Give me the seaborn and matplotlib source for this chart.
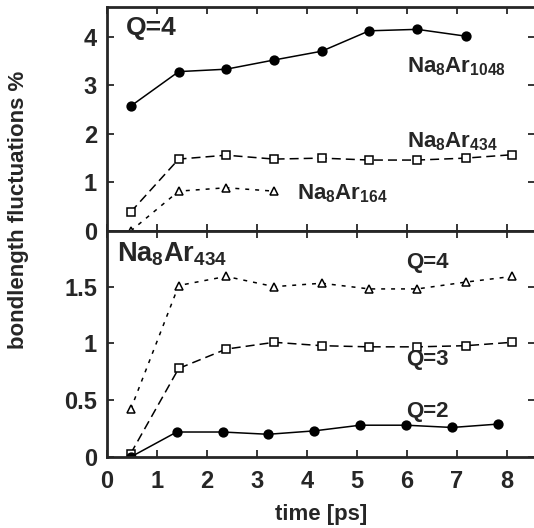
import matplotlib
matplotlib.use("Agg")
import matplotlib.pyplot as plt
import pandas as pd
import seaborn as sns

# top panel, Q=4, three cluster sizes
t_top = [0.48, 1.44, 2.39, 3.35, 4.30, 5.25, 6.21, 7.18, 8.11]
ar1048 = [2.57, 3.28, 3.33, 3.52, 3.70, 4.12, 4.15, 4.01]
ar434 = [0.39, 1.48, 1.56, 1.48, 1.50, 1.46, 1.46, 1.50, 1.57]
ar164 = [0.0, 0.82, 0.89, 0.82]

# bottom panel, Na8Ar434, three charge states
t_q2 = [0.48, 1.40, 2.32, 3.23, 4.15, 5.07, 5.99, 6.91, 7.83]
q4 = [0.42, 1.51, 1.59, 1.50, 1.53, 1.48, 1.48, 1.54, 1.59]
q3 = [0.03, 0.78, 0.95, 1.01, 0.98, 0.97, 0.97, 0.98, 1.01]
q2 = [0.0, 0.22, 0.22, 0.20, 0.23, 0.28, 0.28, 0.26, 0.29]

sns.set_style("ticks")
plt.rcParams["font.family"] = ["Liberation Sans", "DejaVu Sans"]
plt.rcParams["font.weight"] = "bold"
plt.rcParams["mathtext.fontset"] = "custom"
plt.rcParams["mathtext.bf"] = "Liberation Sans:bold"
plt.rcParams["mathtext.rm"] = "Liberation Sans:bold"

fig = plt.figure(figsize=(5.34, 5.28), dpi=100)
W, H = 534, 528
left, right = 106.7 / W, 535 / W
ax_top = fig.add_axes([left, (H - 231) / H, right - left, 224 / H])
ax_bot = fig.add_axes([left, (H - 457) / H, right - left, 226 / H])


def draw(ax, x, y, marker, dashes, filled):
    df = pd.DataFrame({"t": x[:len(y)], "v": y})
    sns.lineplot(data=df, x="t", y="v", ax=ax, color="black", lw=1.1,
                 marker=marker, markersize=6.3 if marker == "o" else 6,
                 markerfacecolor="black" if filled else "white",
                 markeredgecolor="black", markeredgewidth=1.1,
                 dashes=False, legend=False)
    if dashes is not None:
        ax.lines[-1].set_dashes(dashes)


draw(ax_top, t_top, ar1048, "o", None, True)
draw(ax_top, t_top, ar434, "s", (5.9, 3.3), False)
draw(ax_top, t_top, ar164, "^", (2.6, 3.9), False)

draw(ax_bot, t_top, q4, "^", (2.6, 3.9), False)
draw(ax_bot, t_top, q3, "s", (5.9, 3.3), False)
draw(ax_bot, t_q2, q2, "o", None, True)

xmax = (535 - 106.7) / 50
for ax in (ax_top, ax_bot):
    ax.set_xlim(0, xmax)
    ax.set_xticks(range(0, 9))
    ax.tick_params(direction="in", length=5, width=1.3, top=True, right=True,
                   labelsize=17)
    ax.tick_params(axis="y", pad=7)
    ax.tick_params(axis="x", pad=9)
    for s in ax.spines.values():
        s.set_linewidth(2)
    ax.set_xlabel("")
    ax.set_ylabel("")
    for lab in ax.get_xticklabels() + ax.get_yticklabels():
        lab.set_fontweight("bold")

ax_top.set_ylim(0, 4.61)
ax_top.set_yticks([0, 1, 2, 3, 4])
ax_top.set_yticklabels(["0", "1", "2", "3", "4"])
ax_top.tick_params(labelbottom=False)

ax_bot.set_ylim(0, 1.99)
ax_bot.set_yticks([0, 0.5, 1, 1.5])
ax_bot.set_yticklabels(["0", "0.5", "1", "1.5"])
ax_bot.set_xlabel("time [ps]", fontsize=16, fontweight="bold", labelpad=8)

ax_top.text(0.045, 0.905, "Q=4", transform=ax_top.transAxes, fontsize=19,
            fontweight="bold", va="center")
ax_top.text(0.70, 0.735, r"$\mathbf{Na_8Ar_{1048}}$", transform=ax_top.transAxes,
            fontsize=16, va="center")
ax_top.text(0.70, 0.40, r"$\mathbf{Na_8Ar_{434}}$", transform=ax_top.transAxes,
            fontsize=16, va="center")
ax_top.text(0.445, 0.165, r"$\mathbf{Na_8Ar_{164}}$", transform=ax_top.transAxes,
            fontsize=16, va="center")

ax_bot.text(0.025, 0.895, r"$\mathbf{Na_8Ar_{434}}$", transform=ax_bot.transAxes,
            fontsize=19.5, va="center")
ax_bot.text(0.70, 0.86, "Q=4", transform=ax_bot.transAxes, fontsize=16,
            fontweight="bold", va="center")
ax_bot.text(0.70, 0.43, "Q=3", transform=ax_bot.transAxes, fontsize=16,
            fontweight="bold", va="center")
ax_bot.text(0.70, 0.20, "Q=2", transform=ax_bot.transAxes, fontsize=16,
            fontweight="bold", va="center")

fig.text(19 / W, 1 - 210 / H, "bondlength fluctuations %", rotation=90,
         ha="center", va="center", fontsize=16, fontweight="bold")

fig.savefig("out.png", dpi=100)
